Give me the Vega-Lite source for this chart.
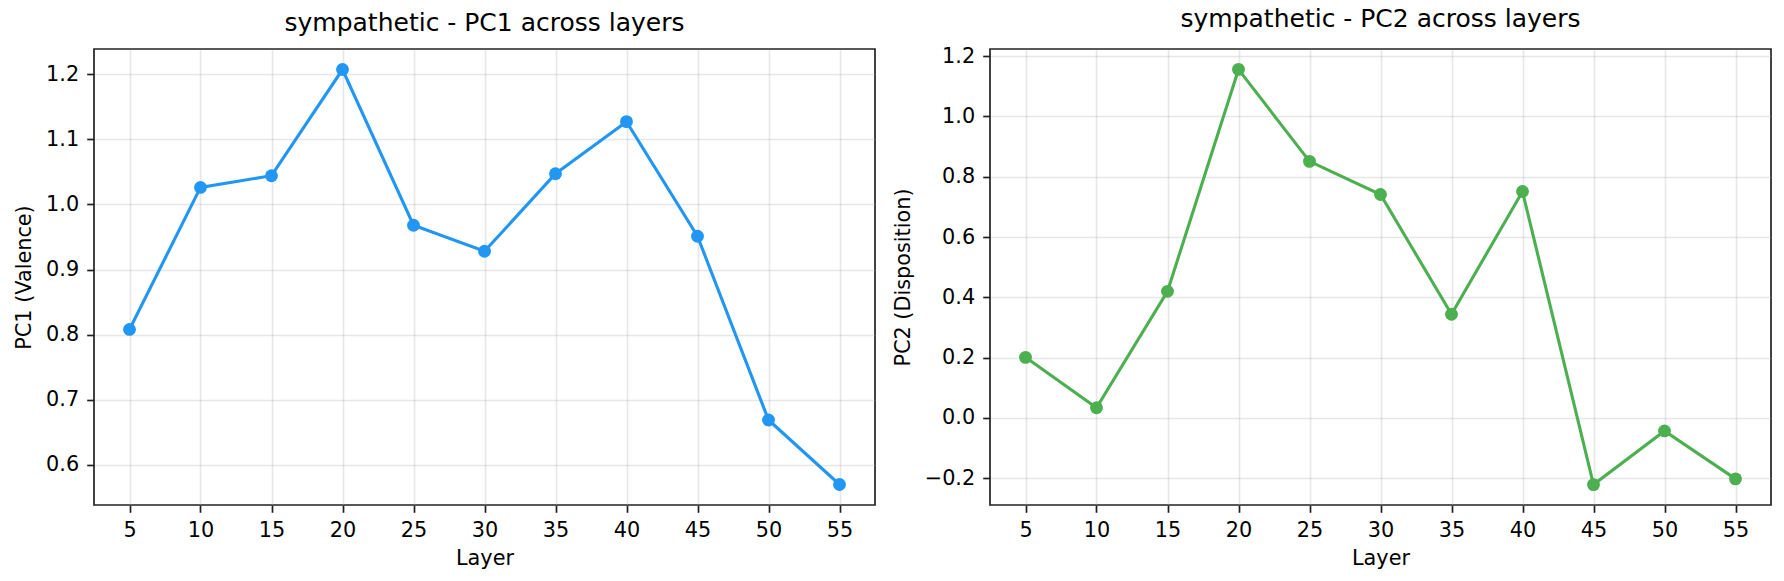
{
  "$schema": "https://vega.github.io/schema/vega-lite/v6.json",
  "padding": {"left": 12, "top": 6, "right": 15, "bottom": 5},
  "background": "white",
  "data": {
    "values": [
      {"layer": 5, "pc1": 0.808, "pc2": 0.201},
      {"layer": 10, "pc1": 1.026, "pc2": 0.034},
      {"layer": 15, "pc1": 1.044, "pc2": 0.420},
      {"layer": 20, "pc1": 1.207, "pc2": 1.156},
      {"layer": 25, "pc1": 0.968, "pc2": 0.851},
      {"layer": 30, "pc1": 0.928, "pc2": 0.741},
      {"layer": 35, "pc1": 1.047, "pc2": 0.344},
      {"layer": 40, "pc1": 1.127, "pc2": 0.751},
      {"layer": 45, "pc1": 0.951, "pc2": -0.221},
      {"layer": 50, "pc1": 0.669, "pc2": -0.043},
      {"layer": 55, "pc1": 0.570, "pc2": -0.202}
    ]
  },
  "spacing": 15,
  "hconcat": [
    {
      "width": 781,
      "height": 456,
      "title": "sympathetic - PC1 across layers",
      "encoding": {
        "x": {"field": "layer", "type": "quantitative", "scale": {"domain": [2.5, 57.5], "nice": false, "zero": false},
              "axis": {"values": [5, 10, 15, 20, 25, 30, 35, 40, 45, 50, 55], "title": "Layer"}},
        "y": {"field": "pc1", "type": "quantitative", "scale": {"domain": [0.5385, 1.2385], "nice": false, "zero": false},
              "axis": {"values": [0.6, 0.7, 0.8, 0.9, 1.0, 1.1, 1.2], "format": ".1f", "title": "PC1 (Valence)"}}
      },
      "layer": [
        {"mark": {"type": "line", "color": "#2196F3", "strokeWidth": 3.1}},
        {"mark": {"type": "point", "shape": "circle", "filled": true, "opacity": 1, "color": "#2196F3", "size": 165}}
      ]
    },
    {
      "width": 781,
      "height": 456,
      "title": "sympathetic - PC2 across layers",
      "encoding": {
        "x": {"field": "layer", "type": "quantitative", "scale": {"domain": [2.5, 57.5], "nice": false, "zero": false},
              "axis": {"values": [5, 10, 15, 20, 25, 30, 35, 40, 45, 50, 55], "title": "Layer"}},
        "y": {"field": "pc2", "type": "quantitative", "scale": {"domain": [-0.2887, 1.2237], "nice": false, "zero": false},
              "axis": {"values": [-0.2, 0.0, 0.2, 0.4, 0.6, 0.8, 1.0, 1.2], "format": ".1f", "title": "PC2 (Disposition)"}}
      },
      "layer": [
        {"mark": {"type": "line", "color": "#4CAF50", "strokeWidth": 3.1}},
        {"mark": {"type": "point", "shape": "circle", "filled": true, "opacity": 1, "color": "#4CAF50", "size": 165}}
      ]
    }
  ],
  "config": {
    "font": "DejaVu Sans",
    "view": {"stroke": "#222222", "strokeWidth": 1.7},
    "title": {"fontSize": 25, "fontWeight": "normal", "color": "#000000", "anchor": "middle", "baseline": "alphabetic", "offset": 13, "font": "DejaVu Sans"},
    "axis": {
      "domain": false,
      "grid": true,
      "gridColor": "#b0b0b0",
      "gridOpacity": 0.3,
      "gridWidth": 1.6,
      "ticks": true,
      "tickColor": "#222222",
      "tickSize": 7.3,
      "tickWidth": 1.7,
      "labelFontSize": 20.8,
      "labelColor": "#000000",
      "labelPadding": 8,
      "labelFont": "DejaVu Sans",
      "titleFont": "DejaVu Sans",
      "titleFontSize": 20.8,
      "titleFontWeight": "normal",
      "titleColor": "#000000",
      "labelFlush": false,
      "labelOverlap": false
    },
    "axisX": {"titlePadding": 8},
    "axisY": {"titlePadding": 11}
  }
}
